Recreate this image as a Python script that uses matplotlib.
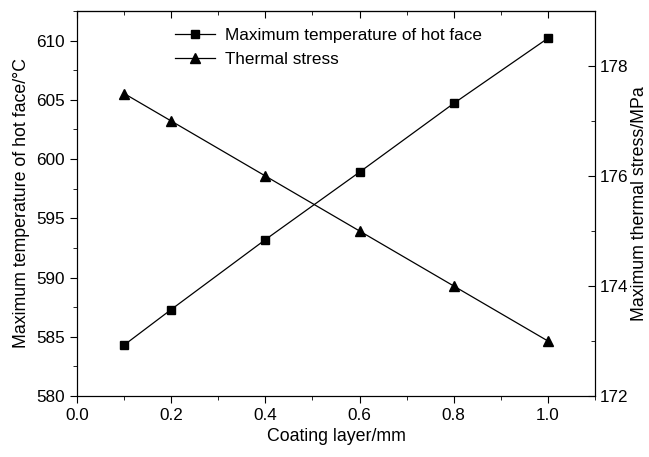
import matplotlib
matplotlib.use("Agg")
import matplotlib.pyplot as plt
from matplotlib.ticker import MultipleLocator

plt.rcParams['font.family'] = ['Liberation Sans', 'DejaVu Sans']

# data
coating = [0.1, 0.2, 0.4, 0.6, 0.8, 1.0]
hot_face_temp = [584.3, 587.3, 593.2, 598.9, 604.7, 610.2]
thermal_stress = [177.5, 177.0, 176.0, 175.0, 174.0, 173.0]

fig = plt.figure(figsize=(6.49, 4.57), dpi=100)
ax = fig.add_axes([77 / 649, 1 - 396 / 457, (595 - 77) / 649, (396 - 11) / 457])
ax2 = ax.twinx()

l1, = ax.plot(coating, hot_face_temp, color='black', lw=0.9, marker='s',
              markersize=5.5, label='Maximum temperature of hot face')
l2, = ax2.plot(coating, thermal_stress, color='black', lw=0.9, marker='^',
               markersize=7.5, label='Thermal stress')

ax.set_xlim(0.0, 1.1)
ax.set_ylim(580, 612.5)
ax2.set_ylim(172, 179)

ax.xaxis.set_major_locator(MultipleLocator(0.2))
ax.xaxis.set_minor_locator(MultipleLocator(0.1))
ax.yaxis.set_major_locator(MultipleLocator(5))
ax.yaxis.set_minor_locator(MultipleLocator(2.5))
ax2.yaxis.set_major_locator(MultipleLocator(2))
ax2.yaxis.set_minor_locator(MultipleLocator(1))
ax.xaxis.set_major_formatter(plt.FormatStrFormatter('%.1f'))

fs = 12.3
lfs = 12.8
ax.tick_params(axis='x', which='both', direction='out', top=False, labelsize=fs)
ax.tick_params(axis='x', which='major', length=5)
ax.tick_params(axis='x', which='minor', length=3)
ax.tick_params(axis='y', which='both', direction='out', labelsize=fs)
ax.tick_params(axis='y', which='major', length=5)
ax.tick_params(axis='y', which='minor', length=3)
ax2.tick_params(axis='y', which='both', direction='in', labelsize=fs)
ax2.tick_params(axis='y', which='major', length=5)
ax2.tick_params(axis='y', which='minor', length=3)

# top ticks point inward
sec = ax.secondary_xaxis('top')
sec.xaxis.set_major_locator(MultipleLocator(0.2))
sec.xaxis.set_minor_locator(MultipleLocator(0.1))
sec.tick_params(which='both', direction='in', labeltop=False)
sec.tick_params(which='major', length=5)
sec.tick_params(which='minor', length=3)

ax.set_xlabel('Coating layer/mm', fontsize=lfs)
ax.set_ylabel('Maximum temperature of hot face/\u00b0C', fontsize=lfs, labelpad=5)
ax2.set_ylabel('Maximum thermal stress/MPa', fontsize=lfs, labelpad=2)

ax.legend(handles=[l1, l2], loc='upper left', bbox_to_anchor=(0.16, 0.995),
          frameon=False, fontsize=fs, handlelength=2.3, handletextpad=0.6,
          labelspacing=0.5)

fig.savefig('out.png', dpi=100)
